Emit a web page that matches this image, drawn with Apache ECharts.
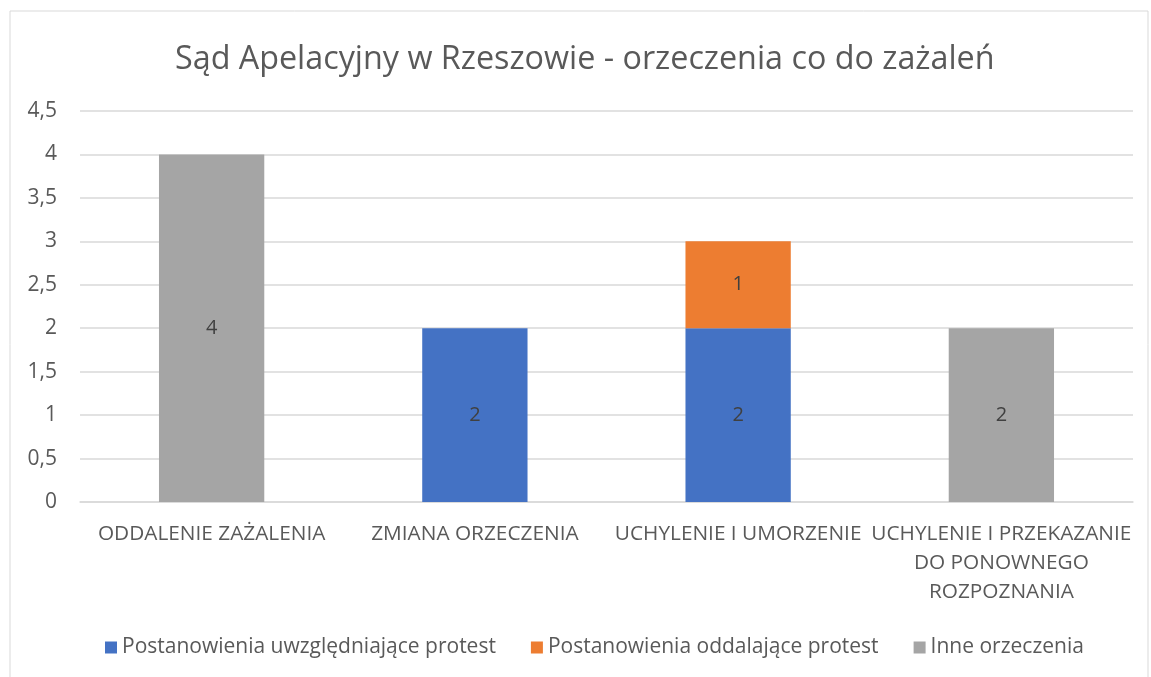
<!DOCTYPE html>
<html>
<head>
    <meta charset="UTF-8">
    <title>Sąd Apelacyjny w Rzeszowie</title>
    <script src="https://cdn.jsdelivr.net/npm/echarts@6/dist/echarts.min.js"></script>
    <style>
        html, body { margin: 0; padding: 0; background: #fff; }
        #chartDom { width: 1151px; height: 677px; }
    </style>
</head>
<body>
<div id="chartDom"></div>
<script type="text/javascript">
    var categories = ['ODDALENIE ZAŻALENIA', 'ZMIANA ORZECZENIA', 'UCHYLENIE I UMORZENIE', 'UCHYLENIE I PRZEKAZANIE\nDO PONOWNEGO\nROZPOZNANIA'];
    var uwzgledniajace = [0, 2, 2, 0];
    var oddalajace = [0, 0, 1, 0];
    var inne = [4, 0, 0, 2];
    var seriesNames = ['Postanowienia uwzględniające protest', 'Postanowienia oddalające protest', 'Inne orzeczenia'];
    var colors = ['#4472c4', '#ed7d31', '#a5a5a5'];

    var myChart = echarts.init(document.getElementById('chartDom'));
    var font = 'Open Sans';

    function makeSeries(name, data, color) {
        return {
            name: name,
            type: 'bar',
            stack: 'all',
            barWidth: '40%',
            itemStyle: { color: color },
            label: {
                show: true,
                position: 'inside',
                color: '#404040',
                fontFamily: font,
                fontSize: 20,
                formatter: function (p) { return p.value ? String(p.value) : ''; }
            },
            data: data
        };
    }

    var option = {
        animation: false,
        textStyle: { fontFamily: font },
        graphic: [{
            type: 'rect',
            shape: { x: 10, y: 11, width: 1138, height: 700 },
            style: { fill: 'none', stroke: '#d9d9d9', lineWidth: 1 },
            silent: true
        }],
        title: {
            text: 'Sąd Apelacyjny w Rzeszowie - orzeczenia co do zażaleń',
            left: 170,
            top: 39,
            textStyle: { fontFamily: font, fontSize: 32.3, fontWeight: 'normal', color: '#595959' }
        },
        grid: { left: 80, right: 18, top: 111, bottom: 175 },
        legend: {
            bottom: 14,
            left: 100,
            itemWidth: 12,
            itemHeight: 12,
            itemGap: 35,
            icon: 'rect',
            textStyle: { fontFamily: font, fontSize: 21, color: '#595959' },
            data: seriesNames
        },
        xAxis: {
            type: 'category',
            data: categories,
            axisLine: { show: true, lineStyle: { color: '#d9d9d9', width: 1.5 } },
            axisTick: { show: false },
            axisLabel: {
                interval: 0,
                margin: 18,
                color: '#595959',
                fontFamily: font,
                fontSize: 20.8,
                lineHeight: 29,
                align: 'center'
            }
        },
        yAxis: {
            type: 'value',
            min: 0,
            max: 4.5,
            interval: 0.5,
            axisLine: { show: false },
            axisTick: { show: false },
            splitLine: { lineStyle: { color: '#d9d9d9', width: 1.5 } },
            axisLabel: {
                color: '#595959',
                fontFamily: font,
                fontSize: 21,
                margin: 23,
                formatter: function (v) { return String(v).replace('.', ','); }
            }
        },
        series: [
            makeSeries(seriesNames[0], uwzgledniajace, colors[0]),
            makeSeries(seriesNames[1], oddalajace, colors[1]),
            makeSeries(seriesNames[2], inne, colors[2])
        ]
    };

    myChart.setOption(option);
</script>
</body>
</html>
